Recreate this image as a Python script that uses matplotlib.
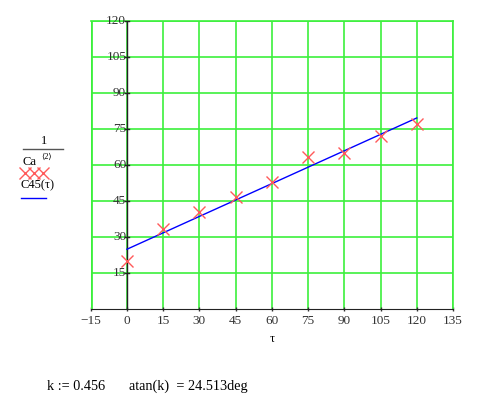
import matplotlib
matplotlib.use("Agg")
import matplotlib.pyplot as plt
from matplotlib.lines import Line2D

tau = [0, 15, 30, 45, 60, 75, 90, 105, 120]
inv_ca2 = [20.0, 33.3, 40.4, 46.5, 52.9, 63.5, 64.9, 72.2, 77.0]
fit_tau = [0, 120]
fit_vals = [24.9, 79.6]
xticks = [-15, 0, 15, 30, 45, 60, 75, 90, 105, 120, 135]
yticks = [15, 30, 45, 60, 75, 90, 105, 120]

plt.rcParams['font.family'] = ['Liberation Serif', 'DejaVu Serif']
GREEN = '#3cf03c'

W, H = 485, 396
fig = plt.figure(figsize=(W / 100, H / 100), dpi=100)
ax = fig.add_axes([90.7 / W, 1 - 309 / H, (453 - 90.7) / W, (309 - 21) / H])

ax.plot(fit_tau, fit_vals, color='#0000ff', lw=1.0, zorder=3)
ax.plot(tau, inv_ca2, linestyle='none', marker='x', markersize=8,
        markeredgewidth=1.0, color='#ff5a5a', zorder=4)

ax.set_xlim(-15, 135)
ax.set_ylim(0, 120)
ax.set_xticks(xticks)
ax.set_yticks(yticks)
ax.tick_params(labelsize=9.5, colors='#333333', length=3, width=1, direction='inout')
ax.tick_params(axis='x', pad=3)
ax.tick_params(axis='y', pad=0)

ax.grid(True, color=GREEN, lw=1.2, zorder=0.5)
ax.set_axisbelow(True)
ax.axvline(-15, color=GREEN, lw=2.0, zorder=1)
ax.axvline(0, color='#222222', lw=1.0, zorder=2.6)
ax.spines['left'].set_visible(False)
ax.spines['bottom'].set_color('#222222')
ax.spines['bottom'].set_zorder(2.6)
ax.spines['top'].set_color(GREEN)
ax.spines['right'].set_color(GREEN)
for s in ('top', 'right'):
    ax.spines[s].set_linewidth(1.2)
for lbl in ax.get_yticklabels():
    lbl.set_visible(False)
ax.tick_params(axis='y', left=False)
for v in yticks:
    ax.text(-0.3, v, str(v), fontsize=9.5, color='#333333', ha='right', va='center', zorder=5)
    ax.plot([-0.8, 0.8], [v, v], color='#222222', lw=1.0, zorder=5, clip_on=False)

ax.set_xlabel('τ', fontsize=9, labelpad=4)

def fx(px):
    return px / W

def fy(py):
    return 1 - py / H

fig.text(fx(44), fy(141), '1', fontsize=9, ha='center', va='center')
fig.add_artist(Line2D([fx(23), fx(63)], [fy(149), fy(149)], color='#555555', lw=1.0))
fig.text(fx(30), fy(161.5), 'Ca', fontsize=9, ha='center', va='center')
fig.text(fx(47), fy(156.5), '⟨2⟩', fontsize=6, ha='center', va='center')
fig.add_artist(Line2D([fx(25), fx(34), fx(43)], [fy(173)] * 3, linestyle='none',
                      marker='x', markersize=8, markeredgewidth=1.0, color='#ff5a5a'))
fig.text(fx(37.5), fy(185.5), 'C45(τ)', fontsize=9, ha='center', va='center')
fig.add_artist(Line2D([fx(20.5), fx(46)], [fy(197.5), fy(197.5)], color='#0000ff', lw=1.0))

fig.text(fx(47), fy(386), 'k := 0.456', fontsize=10.3, ha='left', va='center')
fig.text(fx(129), fy(386), 'atan(k)  = 24.513deg', fontsize=10.3, ha='left', va='center')

fig.savefig('out.png', dpi=100)
